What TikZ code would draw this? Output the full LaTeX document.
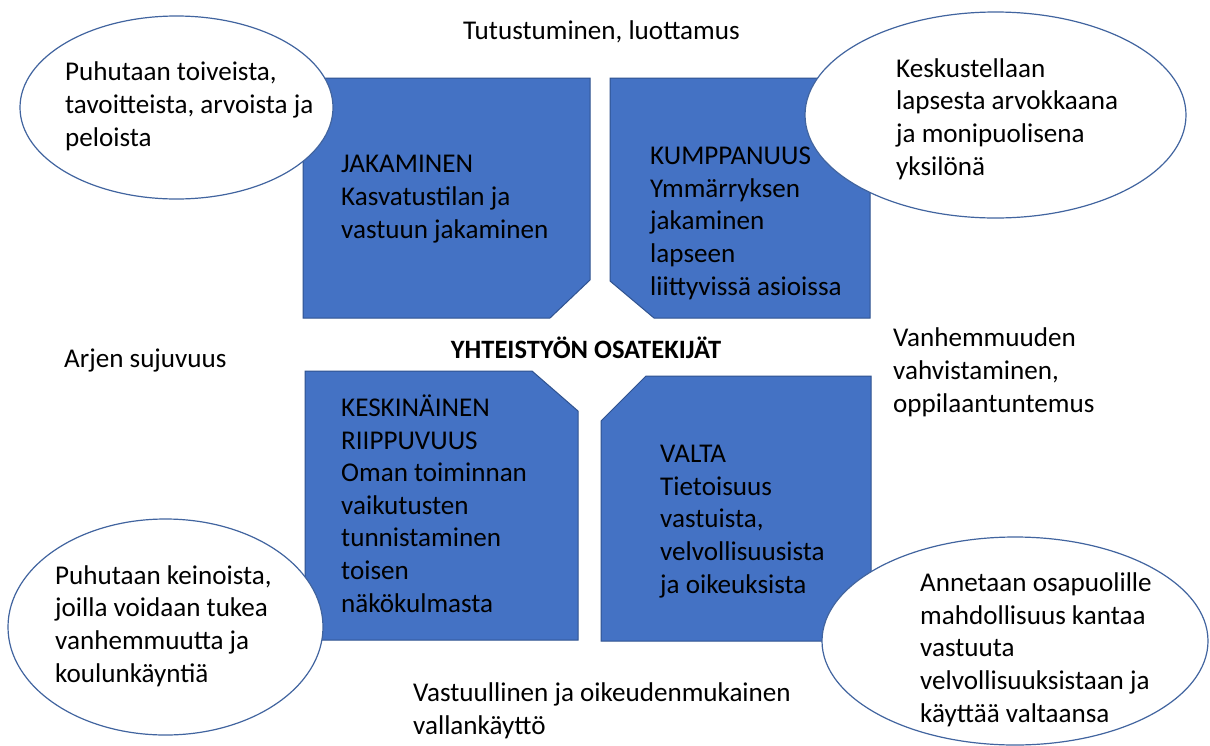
\documentclass[tikz,border=0pt]{standalone}
\usepackage{fontspec}
\setmainfont{Carlito}
\definecolor{boxblue}{HTML}{4472C4}
\definecolor{boxedge}{HTML}{2F528F}
\definecolor{ovaledge}{HTML}{41649F}
\begin{document}
\begin{tikzpicture}[x=1pt,y=-1pt,
  blk/.style={fill=boxblue,draw=boxedge,line width=1pt},
  oval/.style={fill=white,draw=ovaledge,line width=1.2pt},
  txt/.style={anchor=base west,align=left,inner sep=0pt,text=black,
    font=\fontsize{27.1}{32.6}\selectfont},
  title/.style={anchor=base,inner sep=0pt,text=black,
    font=\bfseries\fontsize{26.5}{30}\selectfont}
  ]
\useasboundingbox (0,0) rectangle (1210,745);
\fill[white] (0,0) rectangle (1210,745);
% blue blocks
\draw[blk] (303,78) -- (590,78) -- (590,280) -- (550,318) -- (303,318) -- cycle;
\draw[blk] (610,78) -- (870,78) -- (870,318) -- (654,318) -- (610,281) -- cycle;
\draw[blk] (305,371) -- (532,371) -- (578,411) -- (578,640) -- (305,640) -- cycle;
\draw[blk] (646,376) -- (871,376) -- (871,641) -- (601,641) -- (601,421) -- cycle;
% ovals
\draw[oval] (176.5,107.5) ellipse [x radius=156.5pt, y radius=91.5pt];
\draw[oval] (995.5,115) ellipse [x radius=190.5pt, y radius=103pt];
\draw[oval] (165.5,627) ellipse [x radius=157.5pt, y radius=108pt];
\draw[oval] (1015,641) ellipse [x radius=193pt, y radius=104pt];
% block texts (anchored at the baseline of the last line)
\node[txt] (jak) at (341,238) {JAKAMINEN\\Kasvatustilan ja\\vastuun jakaminen};
\node[txt] (kum) at (650,295) {KUMPPANUUS\\Ymmärryksen\\jakaminen\\lapseen\\liittyvissä asioissa};
\node[txt] (kes) at (341,612) {KESKINÄINEN\\RIIPPUVUUS\\Oman toiminnan\\vaikutusten\\tunnistaminen\\toisen\\näkökulmasta};
\node[txt] (val) at (660,593) {VALTA\\Tietoisuus\\vastuista,\\velvollisuusista\\ja oikeuksista};
% oval texts
\node[txt] (o1) at (65,146) {Puhutaan toiveista,\\tavoitteista, arvoista ja\\peloista};
\node[txt] (o2) at (896,175) {Keskustellaan\\lapsesta arvokkaana\\ja monipuolisena\\yksilönä};
\node[txt] (o3) at (55,682) {Puhutaan keinoista,\\joilla voidaan tukea\\vanhemmuutta ja\\koulunkäyntiä};
\node[txt] (o4) at (920,722) {Annetaan osapuolille\\mahdollisuus kantaa\\vastuuta\\velvollisuuksistaan ja\\käyttää valtaansa};
% free texts
\node[txt] (top) at (463,39) {Tutustuminen, luottamus};
\node[txt] (left) at (64,367) {Arjen sujuvuus};
\node[title] (mid) at (586,358) {YHTEISTYÖN OSATEKIJÄT};
\node[txt] (right) at (893,412) {Vanhemmuuden\\vahvistaminen,\\oppilaantuntemus};
\node[txt] (bot) at (413,734) {Vastuullinen ja oikeudenmukainen\\vallankäyttö};
\end{tikzpicture}
\end{document}
